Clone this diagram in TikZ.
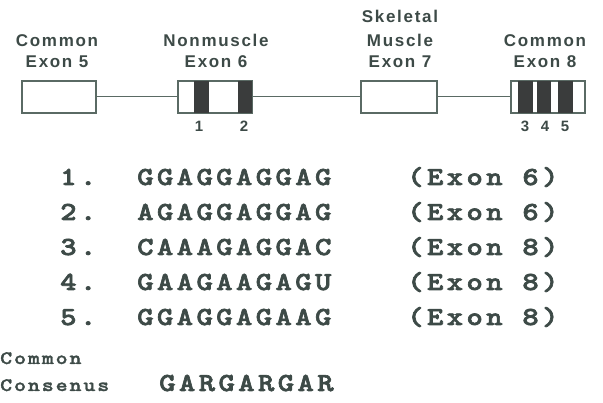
\documentclass[tikz,border=0pt]{standalone}
\usepackage{fontspec}
\newfontfamily\labfont[LetterSpace=10]{Liberation Sans}
\newfontfamily\numfont{Liberation Sans}
\newfontfamily\seqfont[LetterSpace=13,FakeStretch=1.2,FakeBold=2.5]{lmmonolt10-bold.otf}
\newfontfamily\cmfont[LetterSpace=10,FakeStretch=1.2,FakeBold=1.5]{lmmonolt10-bold.otf}
\definecolor{ink}{HTML}{3D4A47}
\definecolor{boxline}{HTML}{5A6A64}
\definecolor{band}{HTML}{3A3C3C}
\begin{document}
\begin{tikzpicture}[x=1pt,y=-1pt,
  lab/.style={text=ink,inner sep=0pt,anchor=base,font=\labfont\bfseries\fontsize{17}{22}\selectfont},
  num/.style={text=ink,inner sep=0pt,anchor=base,font=\numfont\bfseries\fontsize{15}{18}\selectfont},
  seq/.style={text=ink,inner sep=0pt,anchor=base west,font=\seqfont\fontsize{26}{30}\selectfont},
  cmtext/.style={text=ink,inner sep=0pt,anchor=base west,font=\cmfont\fontsize{19}{23}\selectfont},
  exon/.style={draw=boxline,line width=1.2pt,fill=white},
  intron/.style={draw=boxline,line width=1pt},
  bandbox/.style={fill=band,draw=none}]
\useasboundingbox (0,0) rectangle (603,403);
\fill[white] (0,0) rectangle (603,403);
% top labels
\node[lab] (l5a) at (57,47) {Common};
\node[lab] (l5b) at (57,68) {Exon 5};
\node[lab] (l6a) at (216,47) {Nonmuscle};
\node[lab] (l6b) at (216,68) {Exon 6};
\node[lab] (l7a) at (400,23) {Skeletal};
\node[lab] (l7b) at (400,47) {Muscle};
\node[lab] (l7c) at (400,68) {Exon 7};
\node[lab] (l8a) at (545,47) {Common};
\node[lab] (l8b) at (545,68) {Exon 8};
% exon boxes
\node[exon,inner sep=0pt,minimum width=74pt,minimum height=32pt] (e5) at (59,97) {};
\node[exon,inner sep=0pt,minimum width=74pt,minimum height=32pt] (e6) at (215,97) {};
\node[exon,inner sep=0pt,minimum width=76pt,minimum height=32pt] (e7) at (399,97) {};
\node[exon,inner sep=0pt,minimum width=74pt,minimum height=32pt] (e8) at (548,97) {};
\draw[intron] (e5.east) -- (e6.west);
\draw[intron] (e6.east) -- (e7.west);
\draw[intron] (e7.east) -- (e8.west);
% bands
\fill[bandbox] (194,81) rectangle (209,113);
\fill[bandbox] (238,81) rectangle (252,113);
\fill[bandbox] (518,81) rectangle (533,113);
\fill[bandbox] (537,81) rectangle (551,113);
\fill[bandbox] (558,81) rectangle (573,113);
\draw[exon,fill=none] (e6.south west) rectangle (e6.north east);
\draw[exon,fill=none] (e8.south west) rectangle (e8.north east);
% band numbers
\node[num] (n1) at (199,132) {1};
\node[num] (n2) at (244,132) {2};
\node[num] (n3) at (525,132) {3};
\node[num] (n4) at (545,132) {4};
\node[num] (n5) at (565,132) {5};
% sequences
\node[seq] (r1) at (60,185) {1.};
\node[seq] (s1) at (137,185) {GGAGGAGGAG};
\node[seq] (x1) at (407,185) {(Exon 6)};
\node[seq] (r2) at (60,220) {2.};
\node[seq] (s2) at (137,220) {AGAGGAGGAG};
\node[seq] (x2) at (407,220) {(Exon 6)};
\node[seq] (r3) at (60,255) {3.};
\node[seq] (s3) at (137,255) {CAAAGAGGAC};
\node[seq] (x3) at (407,255) {(Exon 8)};
\node[seq] (r4) at (60,290) {4.};
\node[seq] (s4) at (137,290) {GAAGAAGAGU};
\node[seq] (x4) at (407,290) {(Exon 8)};
\node[seq] (r5) at (60,325) {5.};
\node[seq] (s5) at (137,325) {GGAGGAGAAG};
\node[seq] (x5) at (407,325) {(Exon 8)};
\node[cmtext] (c1) at (0,364) {Common};
\node[cmtext] (c2) at (0,391) {Consenus};
\node[seq] (cons) at (159,391) {GARGARGAR};
\end{tikzpicture}
\end{document}
